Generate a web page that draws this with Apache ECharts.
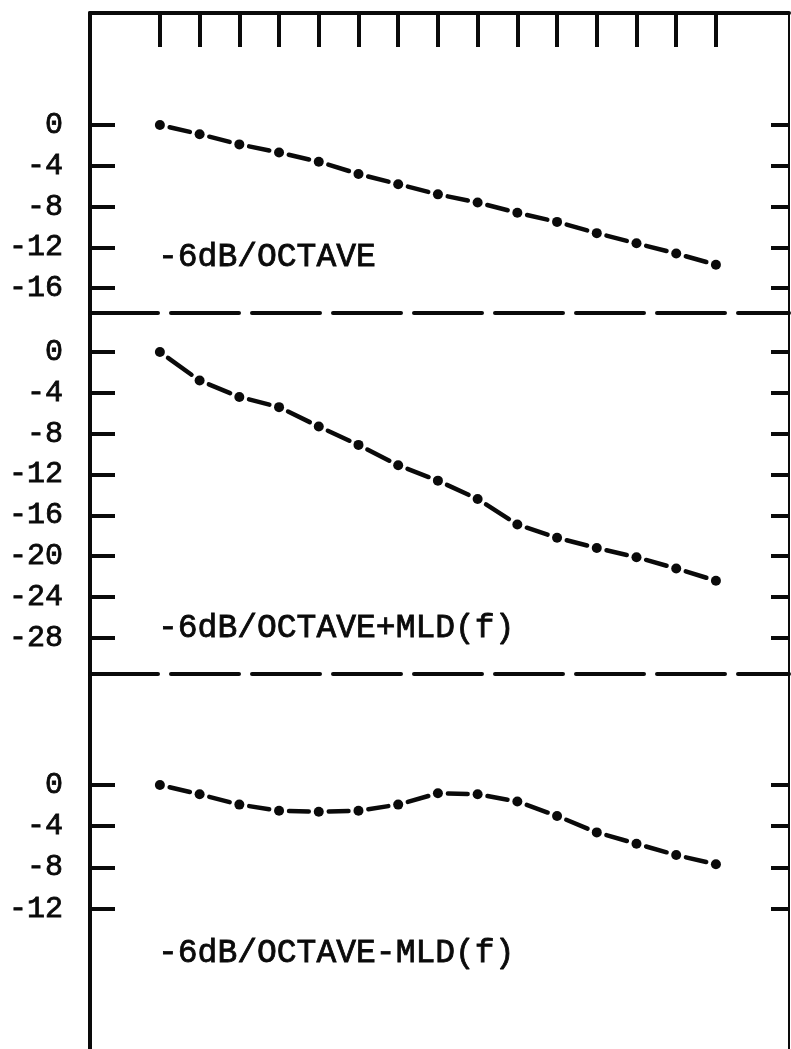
<!DOCTYPE html>
<html>
<head>
<meta charset="utf-8">
<script src="https://cdn.jsdelivr.net/npm/echarts@6/dist/echarts.min.js"></script>
<style>
html,body{margin:0;padding:0;background:#fff;}
#chart{width:791px;height:1049px;}
</style>
</head>
<body>
<div id="chart"></div>
<script>
// ---- data ----
const freqIndex = [0,1,2,3,4,5,6,7,8,9,10,11,12,13,14];
const octave = [0,-0.9,-1.9,-2.7,-3.6,-4.8,-5.8,-6.8,-7.6,-8.6,-9.5,-10.6,-11.6,-12.6,-13.7];
const octavePlusMLD = [0,-2.8,-4.4,-5.4,-7.3,-9.1,-11.1,-12.6,-14.4,-16.9,-18.2,-19.2,-20.1,-21.2,-22.4];
const octaveMinusMLD = [0,-0.9,-1.9,-2.5,-2.6,-2.5,-1.9,-0.8,-0.9,-1.6,-3.0,-4.6,-5.7,-6.8,-7.7];
const ticks1 = [0,-4,-8,-12,-16];
const ticks2 = [0,-4,-8,-12,-16,-20,-24,-28];
const ticks3 = [0,-4,-8,-12];
const panelTitles = ['-6dB/OCTAVE','-6dB/OCTAVE+MLD(f)','-6dB/OCTAVE-MLD(f)'];

const FONT = '"Liberation Mono", "DejaVu Sans Mono", monospace';
const INK = '#0a0a0a';
const xMin = -1.76, xMax = 15.84;

const chart = echarts.init(document.getElementById('chart'), null, {renderer:'canvas'});

function leftY(grid, min, max, ticks){
  return {
    gridIndex: grid, type:'value', position:'left', min:min, max:max,
    axisLine:{show:true, onZero:false, lineStyle:{color:INK, width:4}},
    axisTick:{show:true, inside:true, length:25, lineStyle:{color:INK, width:4}, customValues:ticks},
    axisLabel:{show:true, customValues:ticks, margin:27, color:INK, fontFamily:FONT, fontSize:30,
               textBorderColor:INK, textBorderWidth:0.8},
    splitLine:{show:false}
  };
}
function rightY(grid, min, max, ticks){
  return {
    gridIndex: grid, type:'value', position:'right', min:min, max:max,
    axisLine:{show:true, onZero:false, lineStyle:{color:INK, width:2}},
    axisTick:{show:true, inside:true, length:18, lineStyle:{color:INK, width:4}, customValues:ticks},
    axisLabel:{show:false},
    splitLine:{show:false}
  };
}
function dashedX(grid, show){
  return {
    gridIndex:grid, type:'value', position:'bottom', min:xMin, max:xMax,
    axisLine:{show:show, onZero:false, lineStyle:{color:INK, width:4, type:[68,13]}},
    axisTick:{show:false}, axisLabel:{show:false}, splitLine:{show:false}
  };
}

function renderSeg(params, api){
  const i = api.value(0), v = api.value(1), pv = api.value(2);
  const p = api.coord([i, v]);
  const children = [{type:'circle', shape:{cx:p[0], cy:p[1], r:5}, style:{fill:INK}}];
  if (i > 0){
    const q = api.coord([i-1, pv]);
    const dx = p[0]-q[0], dy = p[1]-q[1];
    const L = Math.sqrt(dx*dx+dy*dy);
    const ux = dx/L, uy = dy/L, g = 10;
    children.push({type:'line', shape:{x1:q[0]+ux*g, y1:q[1]+uy*g, x2:p[0]-ux*g, y2:p[1]-uy*g},
      style:{stroke:INK, lineWidth:4.5, lineCap:'round'}});
  }
  return {type:'group', children:children};
}
function mkSeries(vals, xi, yi){
  return {
    type:'custom', xAxisIndex:xi, yAxisIndex:yi, renderItem:renderSeg, clip:false,
    encode:{x:0, y:1},
    data: vals.map((v,i)=>[freqIndex[i], v, i>0 ? vals[i-1] : v])
  };
}
function title(text, y){
  return {type:'text', x:158, y:y, style:{text:text, font:'33px "Liberation Mono"', fill:INK,
          stroke:INK, lineWidth:0.8, verticalAlign:'middle'}};
}

const option = {
  backgroundColor:'#fff',
  animation:false,
  grid:[
    {left:90, right:2, top:13, height:300},
    {left:90, right:2, top:313, height:361},
    {left:90, right:2, top:674, height:375}
  ],
  xAxis:[
    {gridIndex:0, type:'value', position:'top', min:xMin, max:xMax,
     axisLine:{show:true, onZero:false, lineStyle:{color:INK, width:4}},
     axisTick:{show:true, inside:true, length:34, lineStyle:{color:INK, width:4}, customValues:freqIndex},
     axisLabel:{show:false, customValues:freqIndex}, splitLine:{show:false}},
    dashedX(0, true),
    dashedX(1, true),
    dashedX(2, false)
  ],
  yAxis:[
    leftY(0, -18.43, 10.98, ticks1),
    rightY(0, -18.43, 10.98, ticks1),
    leftY(1, -31.54, 3.82, ticks2),
    rightY(1, -31.54, 3.82, ticks2),
    leftY(2, -25.63, 10.78, ticks3),
    rightY(2, -25.63, 10.78, ticks3)
  ],
  series:[
    mkSeries(octave, 0, 0),
    mkSeries(octavePlusMLD, 2, 2),
    mkSeries(octaveMinusMLD, 3, 4)
  ],
  graphic:[
    title(panelTitles[0], 257),
    title(panelTitles[1], 628),
    title(panelTitles[2], 953)
  ]
};
chart.setOption(option);
</script>
</body>
</html>
